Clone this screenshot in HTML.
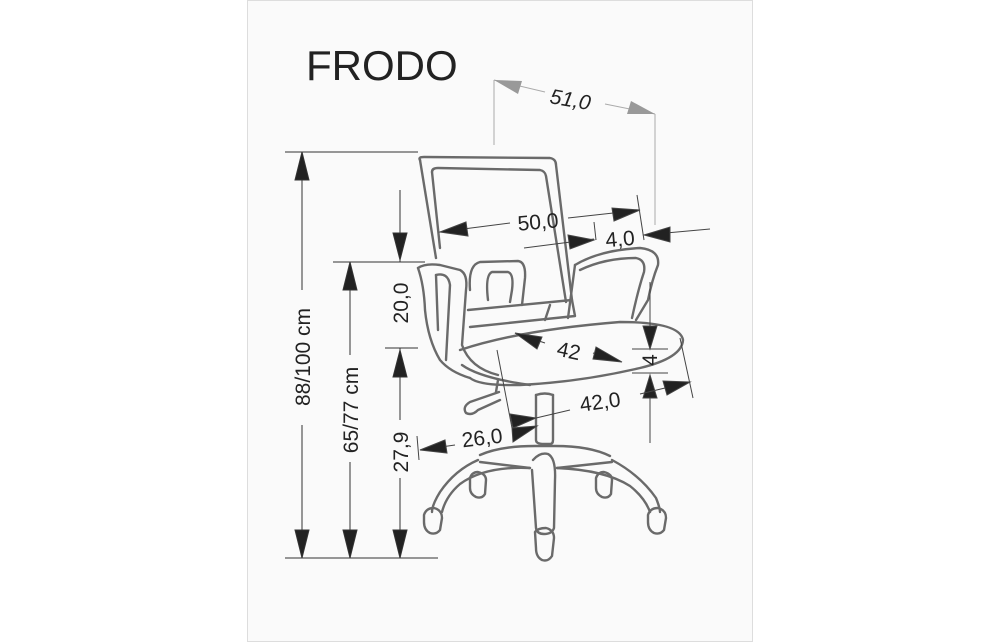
<!DOCTYPE html>
<html><head><meta charset="utf-8"><style>
html,body{margin:0;padding:0;background:#fff;width:1000px;height:643px;overflow:hidden}
svg{display:block}
text{font-family:"Liberation Sans",sans-serif;fill:#222}
</style></head><body>
<svg width="1000" height="643" viewBox="0 0 1000 643">
<rect x="247.5" y="0.5" width="505" height="641" fill="#fafafa" stroke="#ddd"/>
<text x="306" y="80" font-size="42">FRODO</text>

<!-- 51,0 -->
<g stroke="#aaa" stroke-width="1" fill="#999">
<line x1="494" y1="80" x2="494" y2="145"/>
<line x1="655" y1="114" x2="655" y2="225"/>
<line x1="494" y1="80" x2="545" y2="92"/>
<line x1="605" y1="104" x2="655" y2="114"/>
<polygon points="494,80 522,81 518,94" stroke="none"/>
<polygon points="655,114 627,114 631,101" stroke="none"/>
</g>
<text x="550" y="107" font-size="21" font-style="italic" fill="#222" transform="rotate(10 572 99)">51,0</text>

<!-- vertical dims -->
<g stroke="#333" stroke-width="1" fill="#222">
<line x1="285" y1="152" x2="418" y2="152"/>
<line x1="285" y1="558" x2="438" y2="558"/>
<line x1="333" y1="262" x2="425" y2="262"/>
<line x1="385" y1="348" x2="418" y2="348"/>
<line x1="302" y1="152" x2="302" y2="290"/>
<line x1="302" y1="425" x2="302" y2="558"/>
<line x1="350" y1="262" x2="350" y2="355"/>
<line x1="350" y1="462" x2="350" y2="558"/>
<line x1="400" y1="190" x2="400" y2="262"/>
<line x1="400" y1="348" x2="400" y2="420"/>
<line x1="400" y1="478" x2="400" y2="558"/>
<polygon points="302,152 295,180 309,180"/>
<polygon points="302,558 295,530 309,530"/>
<polygon points="350,262 343,290 357,290"/>
<polygon points="350,558 343,530 357,530"/>
<polygon points="400,260 393,233 407,233"/>
<polygon points="400,350 393,377 407,377"/>
<polygon points="400,558 393,530 407,530"/>
</g>
<text font-size="21" transform="translate(310 357) rotate(-90)" text-anchor="middle">88/100 cm</text>
<text font-size="21" transform="translate(358 410) rotate(-90)" text-anchor="middle">65/77 cm</text>
<text font-size="21" transform="translate(408 303) rotate(-90)" text-anchor="middle">20,0</text>
<text font-size="21" transform="translate(408 452) rotate(-90)" text-anchor="middle">27,9</text>

<!-- chair -->
<g fill="none" stroke="#6a6a6a" stroke-width="2.4" stroke-linejoin="round" stroke-linecap="round">
<path d="M420,160 Q418,157 424,157 L550,158 Q556,159 556,165 L572,300"/>
<path d="M420,160 L436,258"/>
<path d="M432,172 Q432,168 438,168 L540,170 Q545,171 546,176 L566,302"/>
<path d="M432,172 L440,248"/>
<path d="M470,327 L575,316 L572,300 L468,310"/>
<path d="M470,290 Q468,265 480,262 L518,261 Q526,262 525,278 L522,305"/>
<path d="M488,300 Q485,275 492,272 L508,272 Q514,274 512,290 L510,302"/>
<path d="M545,320 L550,305"/>
<path d="M418,268 Q425,263 440,265 L460,270 Q468,274 466,290 L462,345 Q470,368 498,375"/>
<path d="M418,268 Q424,285 425,310 Q428,340 440,360 Q450,372 470,378"/>
<path d="M436,275 Q448,272 450,285 L446,360"/>
<path d="M436,275 L438,330"/>
<path d="M575,265 Q600,250 640,248 Q660,250 658,265 Q652,280 648,300 L636,320"/>
<path d="M580,270 Q605,258 636,258 Q646,260 644,272 Q638,290 632,318"/>
<path d="M575,265 L568,318"/>
<path d="M460,350 Q520,330 620,322 Q680,322 683,340 Q682,358 640,368 Q580,382 520,385 Q480,386 470,378"/>
<path d="M462,365 Q480,378 530,385"/>
<path d="M498,380 L496,392"/>
<path d="M499,392 L470,402 Q462,407 466,413 Q472,416 478,410 L500,400"/>
<path d="M536,395 L536,440 Q536,444 544,444 L550,444 Q553,444 553,440 L553,395"/>
<path d="M536,395 Q545,392 553,395"/>
<path d="M480,455 Q500,446 535,446 L555,446 Q590,446 610,456"/>
<path d="M478,460 Q455,470 440,492 Q432,505 432,512"/>
<path d="M442,512 Q446,496 460,484 Q485,466 530,468"/>
<path d="M612,460 Q640,475 656,498 Q660,508 660,512"/>
<path d="M650,512 Q645,498 630,486 Q605,470 557,468"/>
<path d="M533,460 Q540,452 548,454 Q556,458 555,480 L554,528 Q552,534 544,534 Q537,534 536,528 L532,470"/>
<path d="M530,468 L480,462"/>
<path d="M557,468 L612,462"/>
<path d="M424,515 Q426,508 434,508 Q442,510 442,518 L440,530 Q436,535 430,533 Q424,530 424,522 Z"/>
<path d="M648,515 Q650,508 658,508 Q666,510 666,518 L664,530 Q660,535 654,533 Q648,530 648,522 Z"/>
<path d="M535,532 Q538,528 546,528 Q554,530 554,538 L552,556 Q548,562 542,560 Q536,557 536,548 Z"/>
<path d="M470,478 Q472,472 478,472 Q486,474 486,480 L485,494 Q482,499 476,497 Q470,494 470,488 Z"/>
<path d="M596,478 Q598,472 604,472 Q612,474 612,480 L611,494 Q608,499 602,497 Q596,494 596,488 Z"/>
</g>

<!-- chair dims -->
<g stroke="#444" stroke-width="1" fill="#222">
<line x1="440" y1="232" x2="510" y2="223"/>
<line x1="568" y1="218" x2="640" y2="210"/>
<polygon points="440,232 466,222 468,236"/>
<polygon points="640,210 612,208 614,221"/>
<line x1="637" y1="195" x2="644" y2="240"/>
<line x1="524" y1="248" x2="594" y2="239"/>
<line x1="594" y1="222" x2="596" y2="240"/>
<polygon points="594,240 568,235 570,249"/>
<line x1="644" y1="235" x2="710" y2="229"/>
<polygon points="644,235 670,227 670,242"/>
<line x1="515" y1="333" x2="545" y2="343"/>
<line x1="593" y1="353" x2="620" y2="361"/>
<polygon points="515,333 542,337 537,349"/>
<polygon points="622,362 596,347 593,359"/>
<line x1="650" y1="282" x2="650" y2="330"/>
<polygon points="650,349 643,326 657,326"/>
<polygon points="650,375 643,398 657,398"/>
<line x1="650" y1="398" x2="650" y2="443"/>
<line x1="632" y1="349" x2="668" y2="349"/>
<line x1="632" y1="373" x2="668" y2="373"/>
<line x1="680" y1="338" x2="693" y2="398"/>
<line x1="640" y1="394" x2="690" y2="382"/>
<line x1="536" y1="418" x2="570" y2="410"/>
<polygon points="690,382 663,381 667,395"/>
<polygon points="536,418 510,414 513,428"/>
<line x1="497" y1="350" x2="512" y2="428"/>
<polygon points="537,426 512,428 513,442"/>
<line x1="420" y1="450" x2="455" y2="445"/>
<polygon points="420,450 445,440 447,453"/>
<line x1="417" y1="436" x2="419" y2="460"/>
</g>
<text font-size="21" x="538" y="229" text-anchor="middle" transform="rotate(-5 538 222)">50,0</text>
<text font-size="21" x="620" y="246" text-anchor="middle" transform="rotate(-5 620 238)">4,0</text>
<text font-size="21" x="569" y="358" text-anchor="middle" transform="rotate(12 569 350)">42</text>
<text font-size="21" transform="translate(657 360) rotate(-90)" text-anchor="middle">4</text>
<text font-size="21" x="600" y="409" text-anchor="middle" transform="rotate(-8 600 401)">42,0</text>
<text font-size="21" x="482" y="445" text-anchor="middle" transform="rotate(-7 482 437)">26,0</text>
</svg>
</body></html>
